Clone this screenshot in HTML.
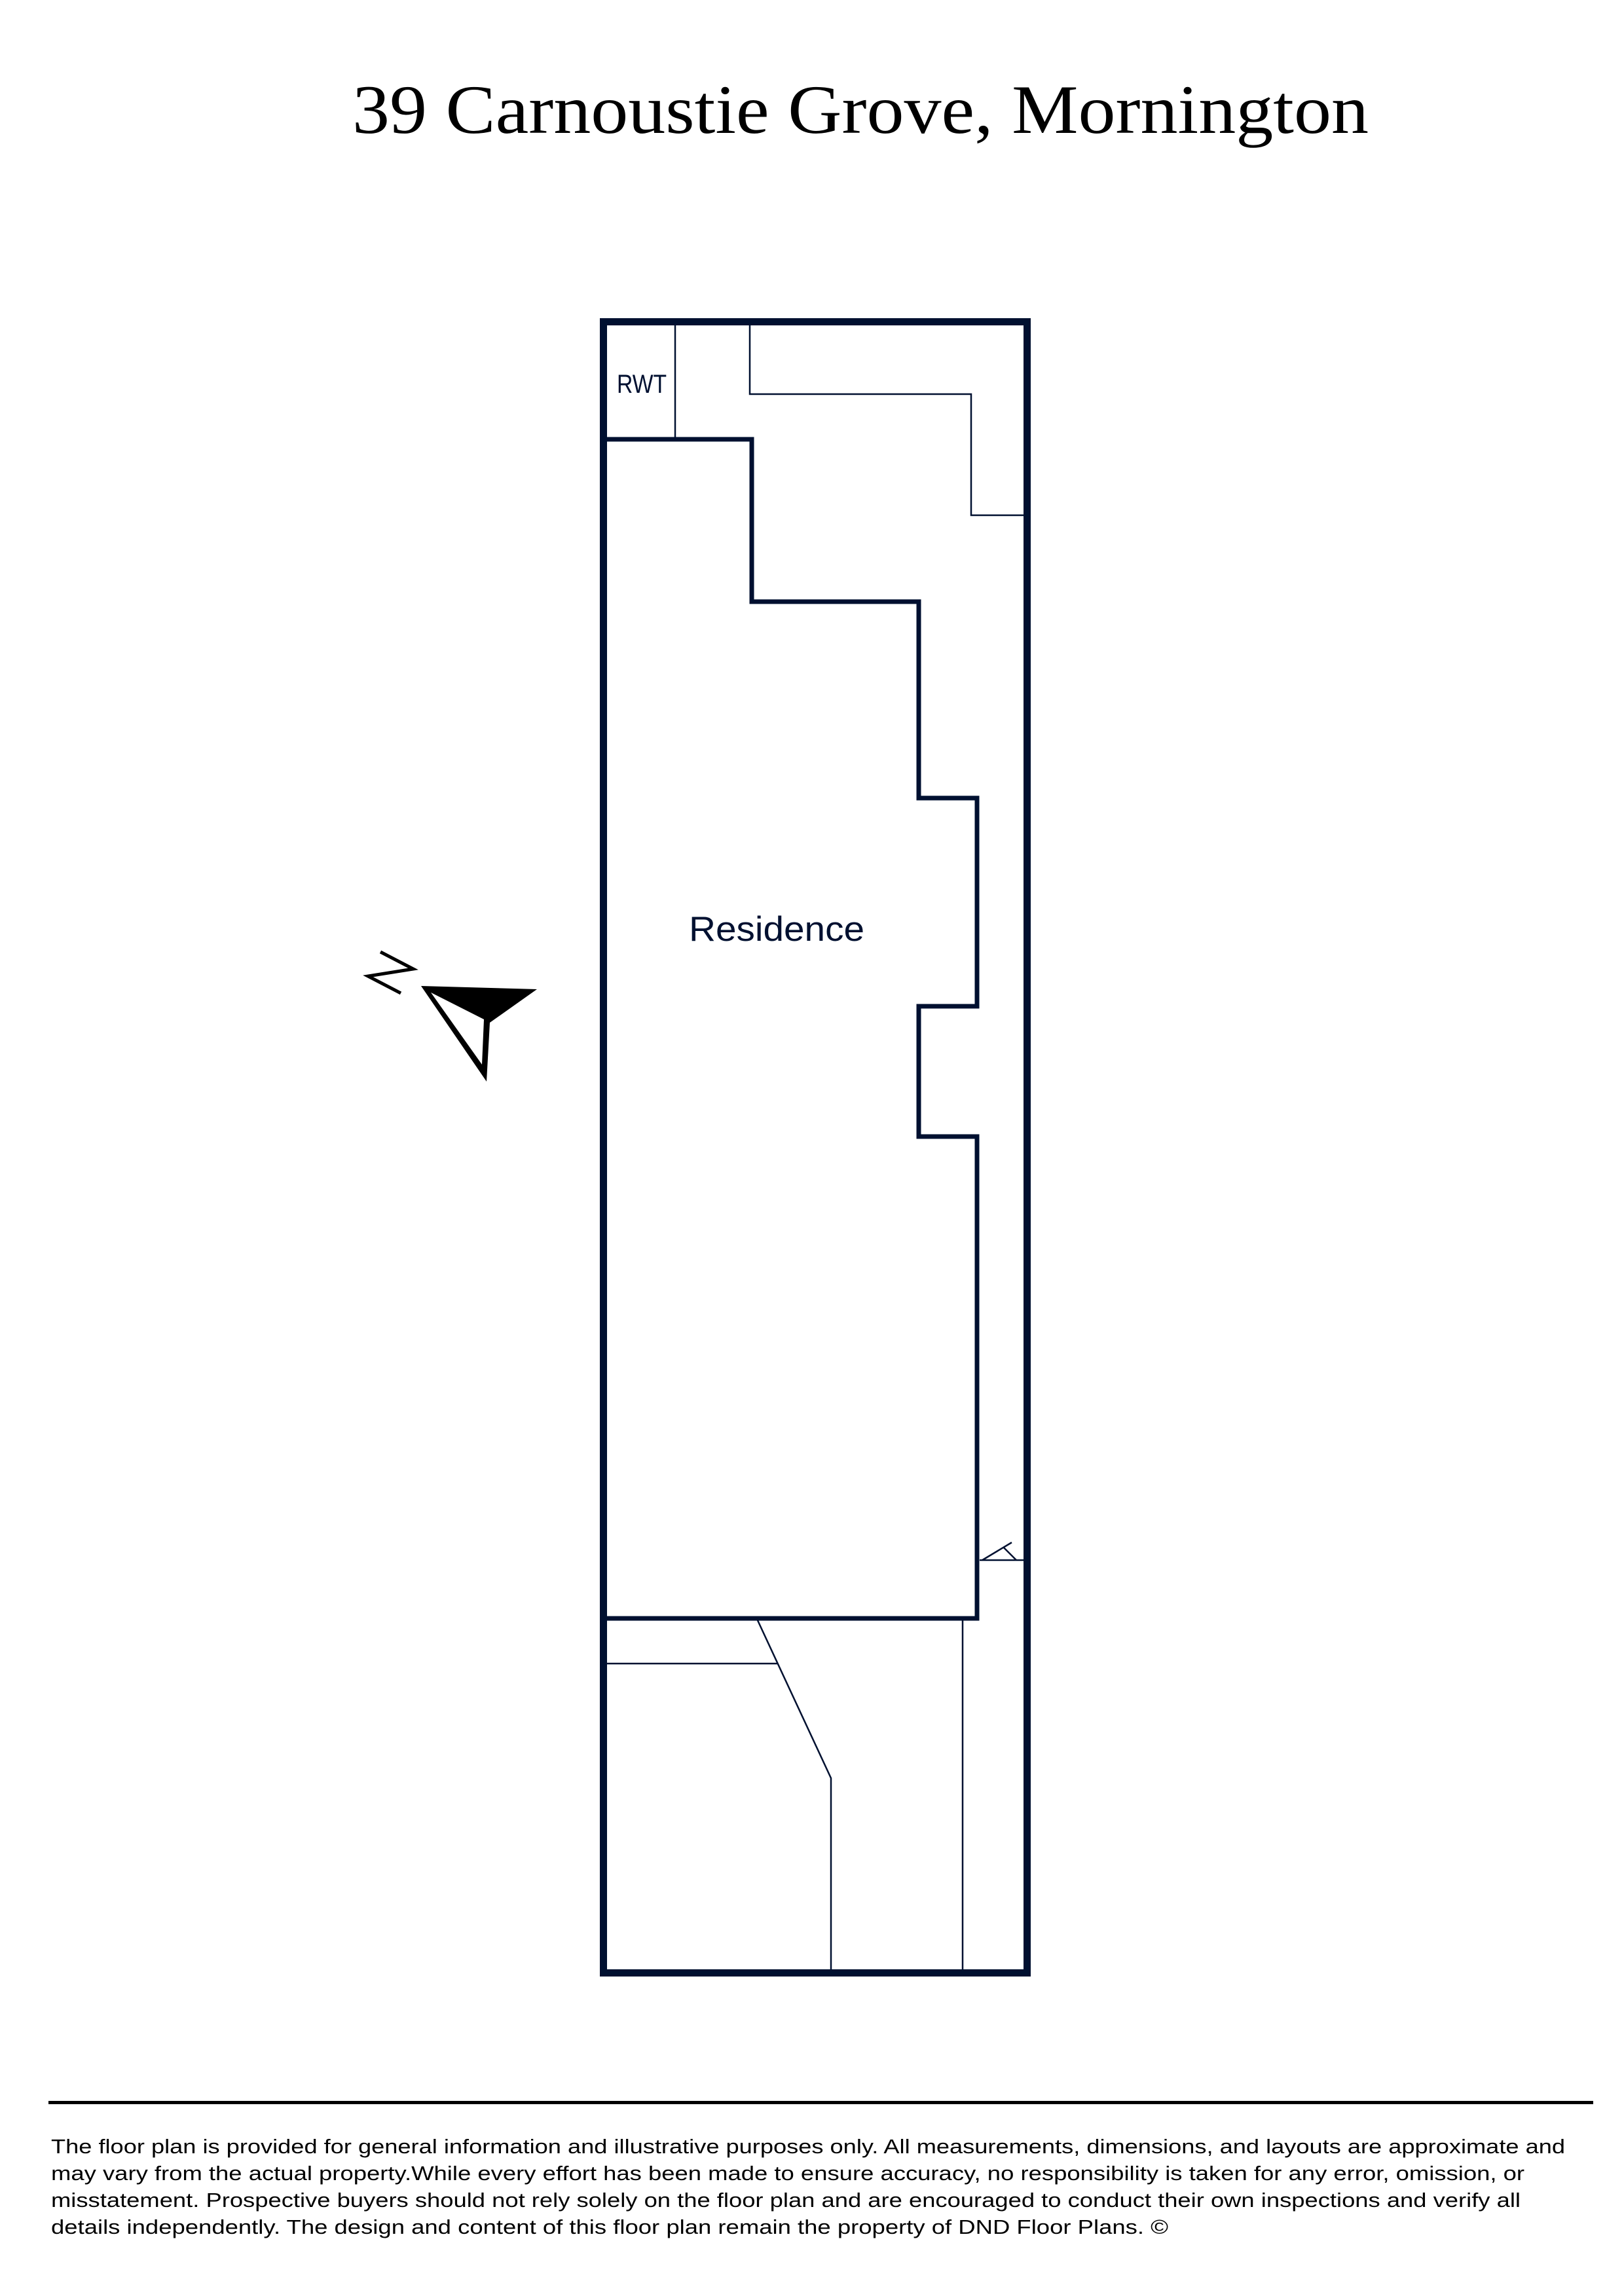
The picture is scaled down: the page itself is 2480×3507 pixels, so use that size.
<!DOCTYPE html>
<html><head><meta charset="utf-8"><style>
html,body{margin:0;padding:0;background:#fff;}
svg{display:block;}
</style></head><body>
<svg width="2480" height="3507" viewBox="0 0 2480 3507" xmlns="http://www.w3.org/2000/svg">
<rect width="2480" height="3507" fill="#fff"/>
<text x="538" y="203" font-family="Liberation Serif, serif" font-size="106" fill="#000" textLength="1552" lengthAdjust="spacingAndGlyphs">39 Carnoustie Grove, Mornington</text>

<g fill="none" stroke="#001030" stroke-linecap="square">
<rect x="921.5" y="491.5" width="647" height="2522" stroke-width="11"/>
<polyline stroke-width="7" points="922,671 1148,671 1148,919 1403,919 1403,1219 1492,1219 1492,1537 1403,1537 1403,1736 1492,1736 1492,2472 922,2472"/>
<g stroke-width="2.5" stroke-linecap="butt">
<line x1="1031" y1="492" x2="1031" y2="668"/>
<polyline points="1145,492 1145,602 1483,602 1483,787 1564,787"/>
<line x1="1496" y1="2383" x2="1564" y2="2383"/>
<line x1="1500" y1="2383" x2="1545" y2="2356"/>
<line x1="1533" y1="2364" x2="1552" y2="2383"/>
<polyline points="1157,2475 1269,2716 1269,3009"/>
<line x1="926" y1="2541" x2="1188" y2="2541"/>
<line x1="1470" y1="2475" x2="1470" y2="3009"/>
</g>
</g>

<text x="942" y="600" font-family="Liberation Sans, sans-serif" font-size="40" fill="#001030" textLength="76" lengthAdjust="spacingAndGlyphs">RWT</text>
<text x="1052" y="1437" font-family="Liberation Sans, sans-serif" font-size="53" fill="#001030" textLength="268" lengthAdjust="spacingAndGlyphs">Residence</text>

<polyline points="581,1454 631,1480 562,1491 612,1517" fill="none" stroke="#000" stroke-width="5"/>
<polygon points="643,1506 820,1511 748,1562 743,1652" fill="#000"/>
<polygon points="658,1516 739,1557 736,1626" fill="#fff"/>

<rect x="74" y="3209" width="2359" height="5" fill="#000"/>
<g font-family="Liberation Sans, DejaVu Sans, sans-serif" font-size="31" fill="#000">
<text x="78" y="3289" textLength="2312" lengthAdjust="spacingAndGlyphs">The floor plan is provided for general information and illustrative purposes only. All measurements, dimensions, and layouts are approximate and</text>
<text x="78" y="3330" textLength="2250" lengthAdjust="spacingAndGlyphs">may vary from the actual property.While every effort has been made to ensure accuracy, no responsibility is taken for any error, omission, or</text>
<text x="78" y="3371" textLength="2244" lengthAdjust="spacingAndGlyphs">misstatement. Prospective buyers should not rely solely on the floor plan and are encouraged to conduct their own inspections and verify all</text>
<text x="78" y="3412" textLength="1706" lengthAdjust="spacingAndGlyphs">details independently. The design and content of this floor plan remain the property of DND Floor Plans. ©</text>
</g>
</svg>
</body></html>
